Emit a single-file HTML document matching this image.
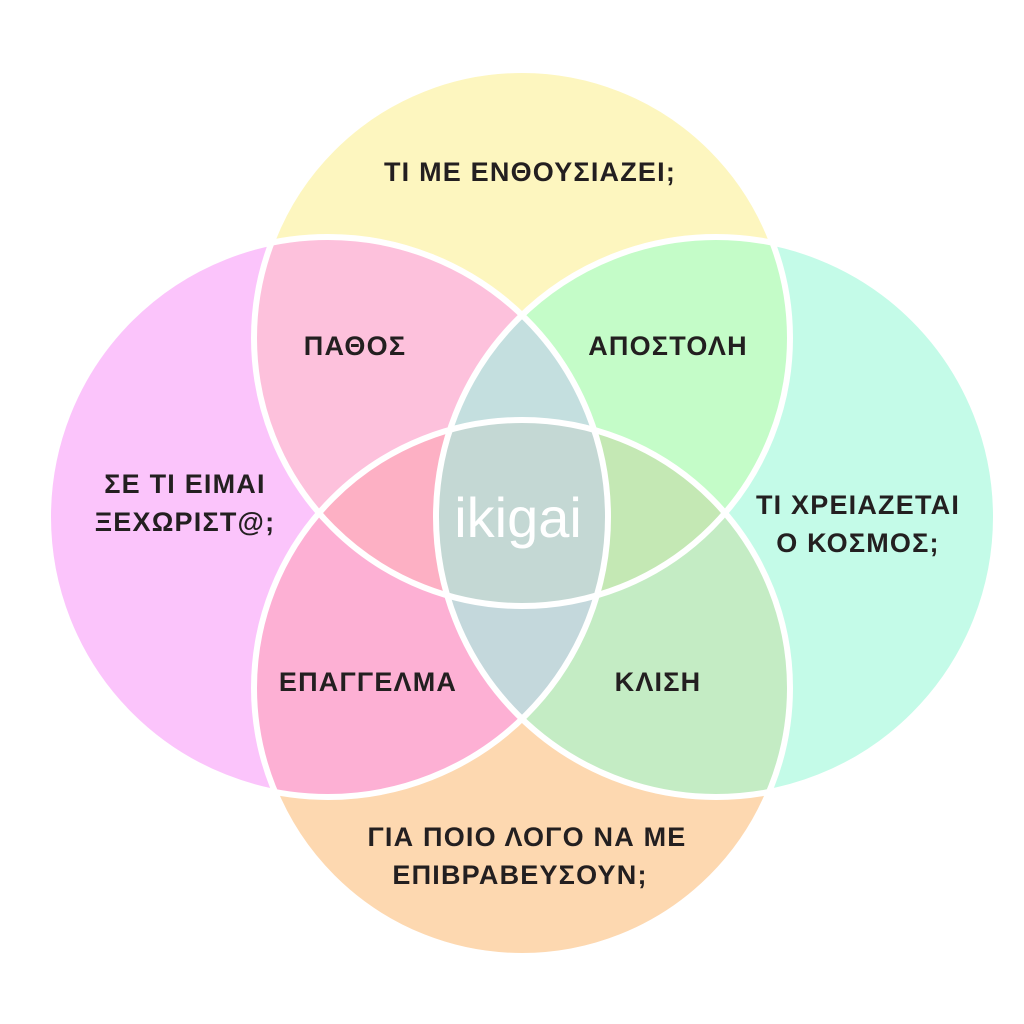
<!DOCTYPE html>
<html><head><meta charset="utf-8"><style>
html,body{margin:0;padding:0;background:#fff;}
svg{display:block;}
text{font-family:"Liberation Sans","DejaVu Sans",sans-serif;font-size:27px;font-weight:bold;fill:#231f20;text-anchor:middle;letter-spacing:1.2px;}
</style></head><body>
<svg width="1024" height="1024" viewBox="0 0 1024 1024" xmlns="http://www.w3.org/2000/svg">
<defs>
<clipPath id="cT"><circle cx="522" cy="338" r="268"/></clipPath>
<clipPath id="cB"><circle cx="522" cy="688" r="268"/></clipPath>
<clipPath id="cL"><circle cx="328" cy="517" r="280"/></clipPath>
<clipPath id="cR"><circle cx="716" cy="517" r="280"/></clipPath>
</defs>
<rect width="1024" height="1024" fill="#fff"/>
<circle cx="522" cy="338" r="268" fill="#fdf6bf"/>
<circle cx="522" cy="688" r="268" fill="#fdd8b0"/>
<circle cx="328" cy="517" r="280" fill="#fbc4fb"/>
<circle cx="716" cy="517" r="280" fill="#c4fbe8"/>
<g clip-path="url(#cT)"><circle cx="328" cy="517" r="280" fill="#fdc1dc"/><circle cx="716" cy="517" r="280" fill="#c4fcc8"/></g>
<g clip-path="url(#cB)"><circle cx="328" cy="517" r="280" fill="#fdb0d4"/><circle cx="716" cy="517" r="280" fill="#c4ecc4"/></g>
<g clip-path="url(#cL)"><circle cx="716" cy="517" r="280" fill="#c4dfdf"/></g>
<g clip-path="url(#cL)"><g clip-path="url(#cR)"><circle cx="522" cy="688" r="268" fill="#c4d8dc"/></g></g>
<g clip-path="url(#cT)"><g clip-path="url(#cB)"><circle cx="328" cy="517" r="280" fill="#fdb0c4"/><circle cx="716" cy="517" r="280" fill="#c4e8b4"/></g></g>
<g clip-path="url(#cT)"><g clip-path="url(#cB)"><g clip-path="url(#cL)"><circle cx="716" cy="517" r="280" fill="#c4d8d4"/></g></g></g>
<g fill="none" stroke="#fff" stroke-width="6">
<circle cx="522" cy="338" r="268"/>
<circle cx="522" cy="688" r="268"/>
<circle cx="328" cy="517" r="280"/>
<circle cx="716" cy="517" r="280"/>
</g>
<text x="530" y="181">ΤΙ ΜΕ ΕΝΘΟΥΣΙΑΖΕΙ;</text>
<text x="355" y="355">ΠΑΘΟΣ</text>
<text x="668" y="355">ΑΠΟΣΤΟΛΗ</text>
<text x="185" y="493">ΣΕ ΤΙ ΕΙΜΑΙ</text>
<text x="185" y="531">ΞΕΧΩΡΙΣΤ@;</text>
<text x="858" y="514">ΤΙ ΧΡΕΙΑΖΕΤΑΙ</text>
<text x="858" y="552">Ο ΚΟΣΜΟΣ;</text>
<text x="368" y="691">ΕΠΑΓΓΕΛΜΑ</text>
<text x="658" y="691">ΚΛΙΣΗ</text>
<text x="527" y="846">ΓΙΑ ΠΟΙΟ ΛΟΓΟ ΝΑ ΜΕ</text>
<text x="520" y="884">ΕΠΙΒΡΑΒΕΥΣΟΥΝ;</text>
<text x="518" y="537" style="font-size:56px;font-weight:normal;fill:#fff;letter-spacing:0">ikigai</text>
</svg>
</body></html>
